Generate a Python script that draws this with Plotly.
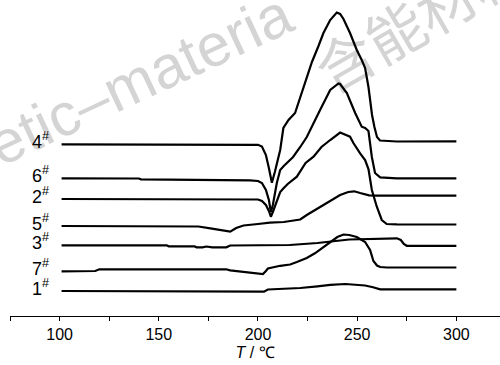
import plotly.graph_objects as go

# Temperature (°C) and heat-flow (arbitrary, stacked) readings for each sample
names = ["4#", "6#", "2#", "5#", "3#", "7#", "1#"]

T4 = [101, 190, 200, 202, 204, 205.5, 207, 208.5, 210, 211.2, 212.8, 215.4, 218.7, 221.3, 224.6, 227.2, 230.5, 233, 236.4, 239.7, 241.4, 243.1, 246.4, 249.8, 252.3, 254, 255.7, 257.5, 258.7, 260, 261.5, 270, 300]
H4 = [171.7, 171.7, 171.2, 169.5, 161, 148, 133.3, 144, 156, 166, 188, 196, 203, 218, 238, 254, 270, 283, 296, 303.5, 302, 297, 283, 266, 256, 248, 229, 201, 189, 179, 175.5, 174.5, 174.7]

T6 = [101, 140, 141, 182, 196, 200, 202, 204, 205.5, 206.5, 207.5, 209.5, 211.2, 213, 217.7, 221.3, 224.6, 231.3, 236.4, 240.6, 241.4, 244.8, 249, 252.3, 254, 255.7, 257.4, 259, 261.6, 270, 300]
H6 = [137.7, 137.5, 136.7, 136.5, 135.7, 135, 133, 126, 116, 104, 111, 133, 146, 150, 159, 169, 179, 206, 226, 232.5, 232, 223, 203, 189.3, 188, 185, 159, 143, 138.7, 137.7, 137.7]

T2 = [101, 138, 139, 200, 202, 204, 205.5, 206.5, 207.5, 209.5, 211.2, 213, 215, 219.6, 224, 228, 232, 236.4, 241.4, 246.4, 248.1, 251.5, 254, 255.7, 257.4, 259.9, 262.4, 264.9, 270, 300]
H2 = [117, 117, 116.5, 116.5, 115, 111, 105, 99.3, 104, 116, 124, 128, 132, 139.3, 153, 159.3, 169, 176, 183.5, 179.3, 173, 162.7, 156, 147, 126, 109.3, 96, 92, 91.7, 91.5]

T5 = [101, 165, 170, 176, 180, 184, 186, 189, 192.7, 200, 206, 213, 217, 221.3, 224.6, 228, 231.3, 236.4, 241.4, 245.5, 248.5, 251.5, 254, 256, 260, 300]
H5 = [90, 90, 89.5, 87.7, 86.5, 85, 84.3, 88, 90.5, 92, 93.3, 94, 95, 96.5, 101, 105, 108.5, 115, 121, 124, 124.7, 123, 121.5, 120.7, 120.3, 120.3]

T3 = [101, 154, 155, 168, 169, 172, 174, 177, 184, 186, 216, 230, 246, 260, 270, 272, 273.5, 275, 300]
H3 = [70.7, 70.7, 69.7, 69.7, 68.7, 68.7, 69.5, 68.7, 68.7, 70.5, 71, 73, 76.5, 77.2, 77.7, 76, 72, 70.2, 70.2]

T7 = [101, 118, 120, 184, 186, 192.6, 198, 201, 202.5, 204, 205, 211.2, 216.2, 219.6, 224.6, 228.7, 233, 236.4, 240, 243.1, 246, 249.8, 254, 256.5, 258.2, 260, 261.6, 265, 300]
H7 = [44.7, 45, 46.7, 46.7, 45.7, 44.3, 43.5, 42.7, 42, 45, 47.5, 50.2, 51.5, 54, 58, 62.7, 69, 74, 79, 81.5, 81, 79, 74, 66, 55, 50.5, 49, 48.5, 48.5]

T1 = [101, 196, 198, 203, 205, 210, 221.3, 230, 236.4, 244, 249, 254, 258, 261.6, 300]
H1 = [25, 25, 24.3, 24.3, 26.5, 27, 28, 29.7, 31.2, 32, 31.5, 30.5, 28.7, 26.7, 26.7]

temps = [T4, T6, T2, T5, T3, T7, T1]
flows = [H4, H6, H2, H5, H3, H7, H1]

tick_vals = [100, 150, 200, 250, 300]
tick_text = ["100", "150", "200", "250", "300"]

FONT = "Liberation Sans Narrow, Liberation Sans, Arial, sans-serif"

fig = go.Figure()
for nm, tx, hy in zip(names, temps, flows):
    fig.add_trace(go.Scatter(x=tx, y=hy, mode="lines", name=nm,
                             line=dict(color="black", width=2.2),
                             showlegend=False, hoverinfo="skip"))
    num = nm.replace("#", "")
    fig.add_annotation(x=95.5, y=hy[0], xref="x", yref="y",
                       text=f"{num}<sup>#</sup>", showarrow=False,
                       xanchor="right", yanchor="middle", yshift=4,
                       font=dict(family=FONT, size=18, color="black"))

# watermark
fig.add_shape(type="rect", xref="paper", yref="paper",
              x0=0.255, x1=0.265, y0=0.761, y1=0.771,
              line=dict(width=0), fillcolor="rgba(0,0,0,0)", layer="below",
              label=dict(text="etic–materia", textangle=-25,
                         textposition="middle center",
                         font=dict(family="Liberation Sans, Arial", size=60, color="#d4d4d4")))
fig.add_shape(type="rect", xref="paper", yref="paper",
              x0=0.84, x1=0.85, y0=0.922, y1=0.932,
              line=dict(width=0), fillcolor="rgba(0,0,0,0)", layer="below",
              label=dict(text="含能材料", textangle=-30,
                         textposition="middle center",
                         font=dict(family="Noto Sans CJK SC", size=58, color="#d4d4d4")))

fig.update_layout(
    width=500, height=365,
    margin=dict(l=10, r=0, t=0, b=49),
    paper_bgcolor="white", plot_bgcolor="white",
    xaxis=dict(range=[75, 322], showgrid=False, zeroline=False,
               showline=True, linecolor="black", linewidth=1,
               tickmode="array", tickvals=tick_vals, ticktext=tick_text,
               ticks="outside", ticklen=4, tickwidth=1, tickcolor="black",
               ticklabelstandoff=0,
               minor=dict(dtick=25, tick0=75, ticks="outside", ticklen=4,
                          tickwidth=1, tickcolor="black", showgrid=False),
               tickfont=dict(family=FONT, size=16, color="black"),
               title=dict(text="<i>T</i> / ℃", standoff=4,
                          font=dict(family=FONT, size=16, color="black")),
               automargin=False),
    yaxis=dict(range=[0, 316], visible=False, showgrid=False, zeroline=False),
)

fig.write_html("out.html", config={"displayModeBar": False},
               post_script="document.body.style.margin='0px';document.body.style.overflow='hidden';")
